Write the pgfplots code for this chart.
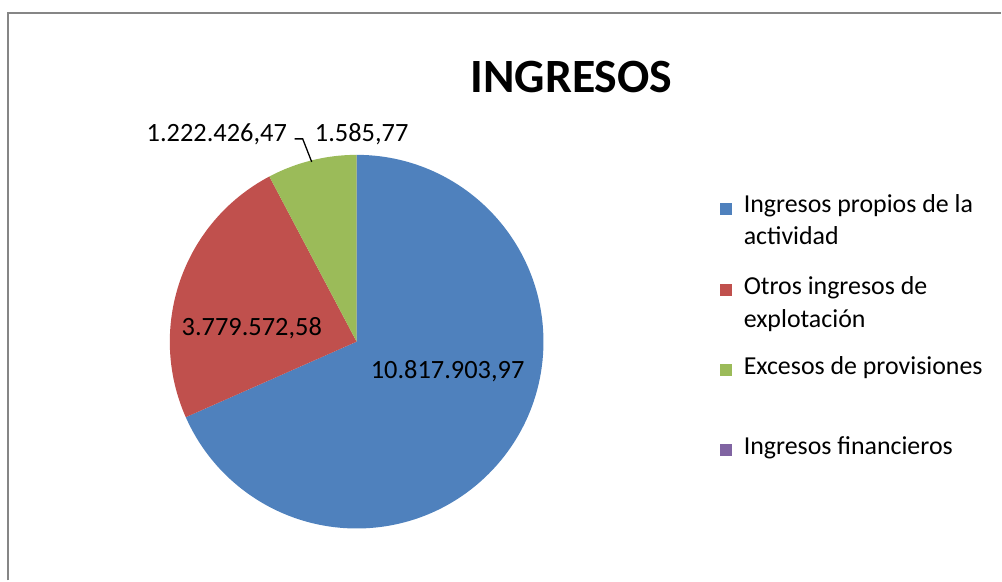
\documentclass[border=0pt]{standalone}
\usepackage{pgfplots}
\pgfplotsset{compat=1.18}
\usepackage{pgfplotstable}
\usepackage{fontspec}
\setmainfont{Carlito}
\definecolor{cBlue}{HTML}{4F81BD}
\definecolor{cRed}{HTML}{C0504D}
\definecolor{cGreen}{HTML}{9BBB59}
\definecolor{cPurple}{HTML}{8064A2}
\definecolor{cBorder}{HTML}{868686}

\pgfplotstableread{
cat value
propios 10817903.97
otros 3779572.58
excesos 1222426.47
financieros 1585.77
}\ingresos

\begin{document}
\begin{tikzpicture}
\pgfplotstablegetelem{0}{value}\of\ingresos\edef\vA{\pgfplotsretval}
\pgfplotstablegetelem{1}{value}\of\ingresos\edef\vB{\pgfplotsretval}
\pgfplotstablegetelem{2}{value}\of\ingresos\edef\vC{\pgfplotsretval}
\pgfplotstablegetelem{3}{value}\of\ingresos\edef\vD{\pgfplotsretval}
\edef\total{\fpeval{\vA+\vB+\vC+\vD}}
\edef\aA{\fpeval{round(90-360*\vA/\total,4)}}
\edef\aB{\fpeval{round(\aA-360*\vB/\total,4)}}
\edef\aC{\fpeval{round(\aB-360*\vC/\total,4)}}
\edef\aD{\fpeval{round(\aC-360*\vD/\total,4)}}
\begin{axis}[
  scale only axis, width=1002bp, height=581bp,
  xmin=0, xmax=1002, ymin=0, ymax=581, y dir=reverse,
  hide axis, clip=false,
  every node/.append style={inner sep=0pt, outer sep=0pt},
]
\addplot[draw=none, forget plot] coordinates {(0,0) (1002,581)};
% border
\draw[cBorder, line width=2bp] (axis cs:8,581) -- (axis cs:8,13) -- (axis cs:1002,13);
% pie slices
\fill[cBlue] (axis cs:357,342) -- ++(90:187bp) arc[start angle=90, end angle=\aA, radius=187bp] -- cycle;
\fill[cRed] (axis cs:357,342) -- ++(\aA:187bp) arc[start angle=\aA, end angle=\aB, radius=187bp] -- cycle;
\fill[cGreen] (axis cs:357,342) -- ++(\aB:187bp) arc[start angle=\aB, end angle=\aC, radius=187bp] -- cycle;
\fill[cPurple] (axis cs:357,342) -- ++(\aC:187bp) arc[start angle=\aC, end angle=\aD, radius=187bp] -- cycle;
% title
\node[anchor=base, font=\fontsize{48}{52}\selectfont\bfseries] at (axis cs:572,93) {INGRESOS};
% data labels
\node[anchor=base, font=\fontsize{26.5}{30}\selectfont] at (axis cs:448,379) {10.817.903,97};
\node[anchor=base, font=\fontsize{26.5}{30}\selectfont] at (axis cs:252,336) {3.779.572,58};
\node[anchor=base, font=\fontsize{26.5}{30}\selectfont] at (axis cs:217,142) {1.222.426,47};
\node[anchor=base, font=\fontsize{26.5}{30}\selectfont] at (axis cs:362,142) {1.585,77};
\draw[black, line width=1.3bp] (axis cs:295,139) -- (axis cs:303,139) -- (axis cs:312,162);
% legend
\fill[cBlue] (axis cs:721,203) rectangle (axis cs:733,215);
\fill[cRed] (axis cs:721,284) rectangle (axis cs:733,296);
\fill[cGreen] (axis cs:721,364) rectangle (axis cs:733,376);
\fill[cPurple] (axis cs:721,444) rectangle (axis cs:733,456);
\node[anchor=base west, font=\fontsize{26}{30}\selectfont] at (axis cs:741,213) {Ingresos propios de la};
\node[anchor=base west, font=\fontsize{26}{30}\selectfont] at (axis cs:741,245) {actividad};
\node[anchor=base west, font=\fontsize{26}{30}\selectfont] at (axis cs:741,295) {Otros ingresos de};
\node[anchor=base west, font=\fontsize{26}{30}\selectfont] at (axis cs:741,328) {explotación};
\node[anchor=base west, font=\fontsize{26}{30}\selectfont] at (axis cs:741,375) {Excesos de provisiones};
\node[anchor=base west, font=\fontsize{26}{30}\selectfont] at (axis cs:741,455) {Ingresos financieros};
\end{axis}
\end{tikzpicture}
\end{document}
